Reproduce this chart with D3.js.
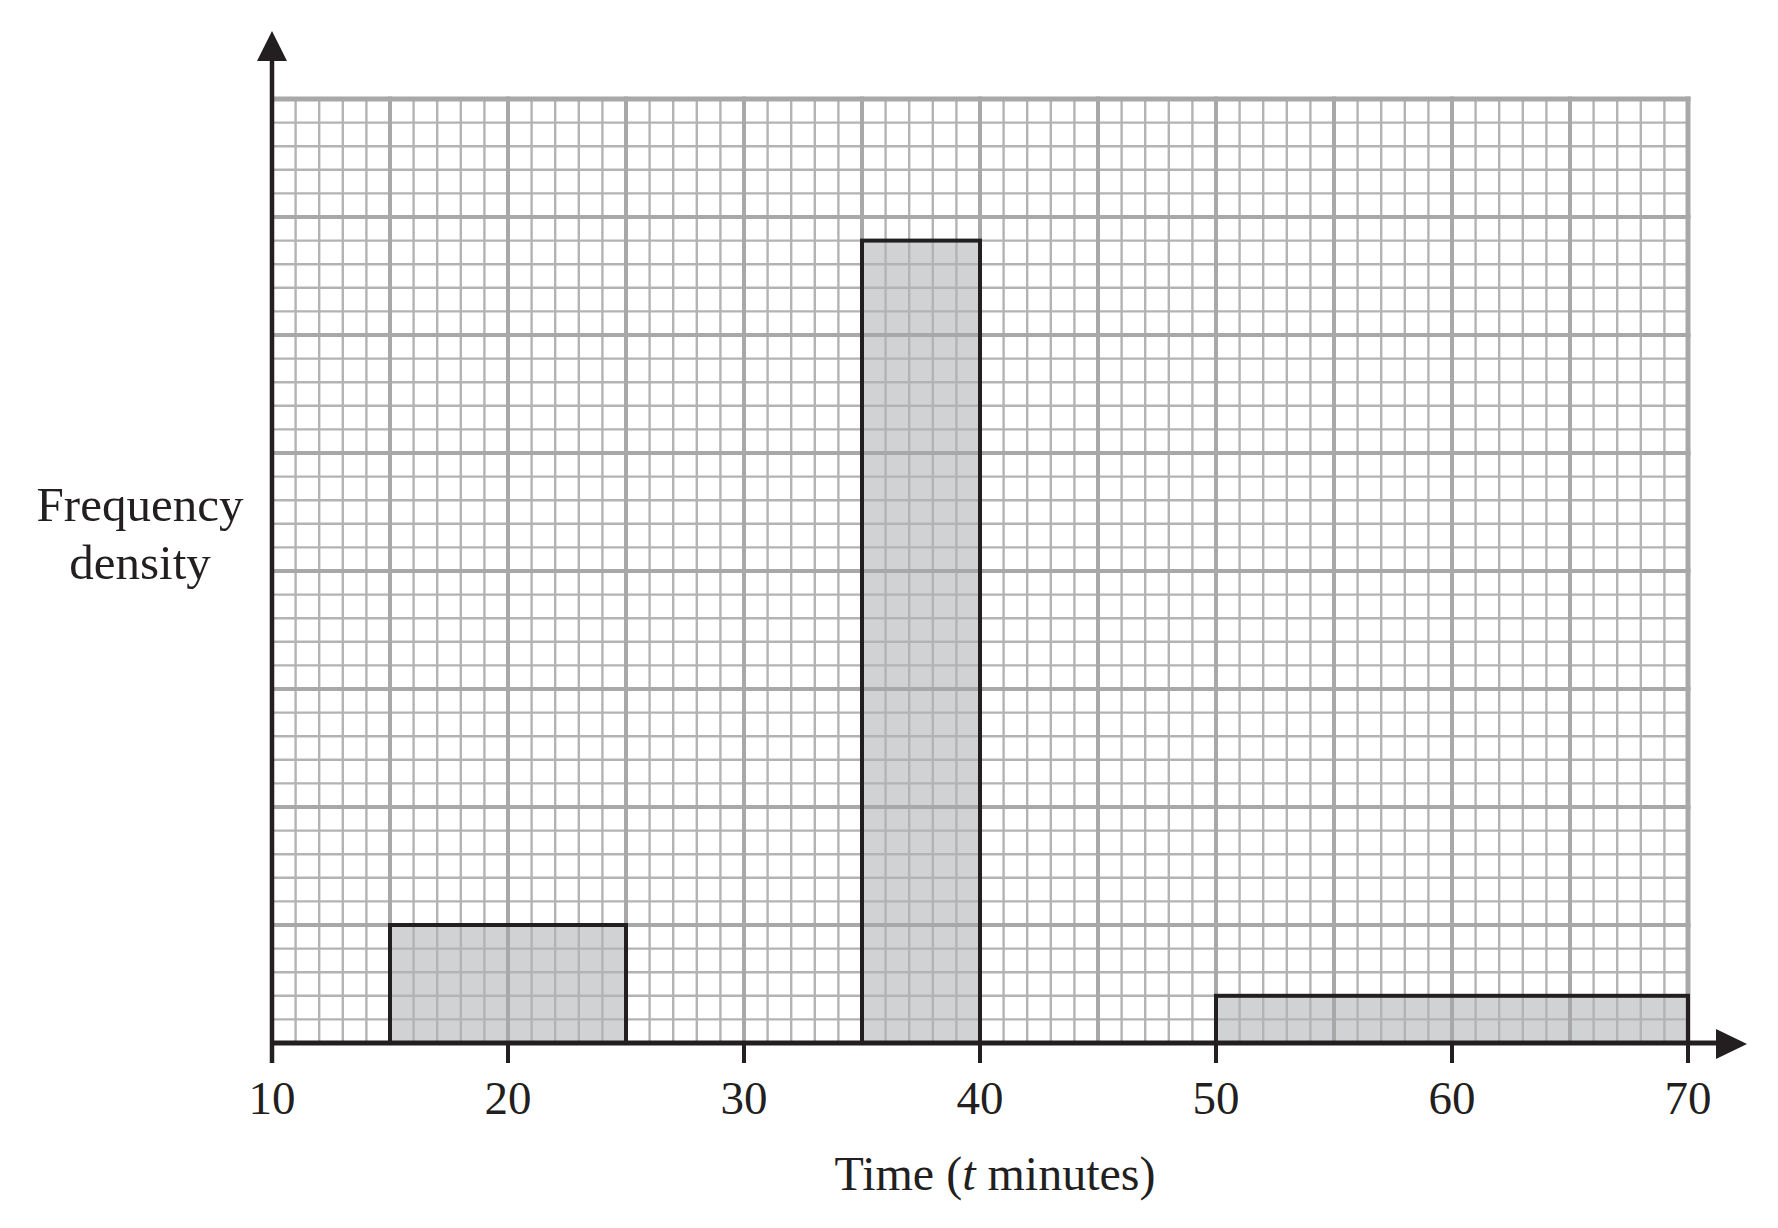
<!DOCTYPE html>
<html>
<head>
<meta charset="utf-8">
<script src="https://cdn.jsdelivr.net/npm/d3@7"></script>
<style>
  body { margin: 0; background: #fff; }
  svg text { font-family: "Liberation Serif", "Times New Roman", serif; fill: #231f20; }
</style>
</head>
<body>
<div id="viz"></div>
<script>
// histogram classes (minutes) and frequency density (in small grid squares)
const classStart = [15, 35, 50]
const classEnd = [25, 40, 70]
const density = [5, 34, 2]
const xTicks = [10, 20, 30, 40, 50, 60, 70]
const xLabel = ['Time (', 't', ' minutes)']
const yLabel = ['Frequency', 'density']

let fullWidth = 1778
let fullHeight = 1228

var svg = d3.select('#viz').append('svg')
    .attr('width', fullWidth).attr('height', fullHeight)

var x = d3.scaleLinear().domain([10, 70]).range([272, 1688])
var y = d3.scaleLinear().domain([0, 40]).range([1043, 99])

let bars = classStart.map((s, i) => ({ s: s, e: classEnd[i], d: density[i] }))

// bar fill sits under the grid
svg.append('g').selectAll('rect')
    .data(bars).enter().append('rect')
    .attr('x', d => x(d.s)).attr('y', d => y(d.d))
    .attr('width', d => x(d.e) - x(d.s)).attr('height', d => y(0) - y(d.d))
    .attr('fill', '#d1d2d4')

// graph paper
let grid = svg.append('g').attr('class', 'grid')
let minorX = d3.range(10, 70.01, 1).filter(v => v % 5 != 0)
let majorX = d3.range(10, 70.01, 5)
let minorY = d3.range(0, 40.01, 1).filter(v => v % 5 != 0)
let majorY = d3.range(0, 40.01, 5)

grid.selectAll('.mx').data(minorX).enter().append('line')
    .attr('x1', d => x(d)).attr('x2', d => x(d)).attr('y1', y(0)).attr('y2', y(40))
    .attr('stroke', '#b3b3b3').attr('stroke-width', 2.4)
grid.selectAll('.my').data(minorY).enter().append('line')
    .attr('y1', d => y(d)).attr('y2', d => y(d)).attr('x1', x(10)).attr('x2', x(70))
    .attr('stroke', '#b3b3b3').attr('stroke-width', 2.4)
grid.selectAll('.Mx').data(majorX).enter().append('line')
    .attr('x1', d => x(d)).attr('x2', d => x(d)).attr('y1', y(0)).attr('y2', y(40) - 2.5)
    .attr('stroke', '#a8a8a8').attr('stroke-width', d => d == 70 ? 5 : 4)
grid.selectAll('.My').data(majorY).enter().append('line')
    .attr('y1', d => y(d)).attr('y2', d => y(d)).attr('x1', x(10)).attr('x2', x(70) + 2.5)
    .attr('stroke', '#a8a8a8').attr('stroke-width', d => d == 40 ? 5 : 4)

// bar outlines
svg.append('g').selectAll('rect')
    .data(bars).enter().append('rect')
    .attr('x', d => x(d.s)).attr('y', d => y(d.d))
    .attr('width', d => x(d.e) - x(d.s)).attr('height', d => y(0) - y(d.d))
    .attr('fill', 'none').attr('stroke', '#231f20').attr('stroke-width', 4)

// axes with arrow heads
let axes = svg.append('g').attr('class', 'axes')
axes.append('line')
    .attr('x1', x(10)).attr('x2', 1720).attr('y1', y(0)).attr('y2', y(0))
    .attr('stroke', '#231f20').attr('stroke-width', 5)
axes.append('path')
    .attr('d', `M1716,1029 L1747,1044 L1716,1059 Z`).attr('fill', '#231f20')
axes.append('line')
    .attr('x1', x(10)).attr('x2', x(10)).attr('y1', 1063).attr('y2', 58)
    .attr('stroke', '#231f20').attr('stroke-width', 4.5)
axes.append('path')
    .attr('d', `M257,61 L${x(10)},31 L287,61 Z`).attr('fill', '#231f20')

axes.selectAll('.tick').data(xTicks).enter().append('line')
    .attr('x1', d => x(d)).attr('x2', d => x(d)).attr('y1', y(0)).attr('y2', 1063)
    .attr('stroke', '#231f20').attr('stroke-width', 4)
axes.selectAll('.tl').data(xTicks).enter().append('text')
    .attr('x', d => x(d)).attr('y', 1114)
    .attr('text-anchor', 'middle').attr('font-size', 47)
    .text(d => d)

// labels
let xl = svg.append('text').attr('x', 995).attr('y', 1190)
    .attr('text-anchor', 'middle').attr('font-size', 48)
xl.append('tspan').text(xLabel[0])
xl.append('tspan').attr('font-style', 'italic').text(xLabel[1])
xl.append('tspan').text(xLabel[2])

svg.append('g').selectAll('text').data(yLabel).enter().append('text')
    .attr('x', 140).attr('y', (d, i) => 521 + i * 58)
    .attr('text-anchor', 'middle').attr('font-size', 49)
    .text(d => d)
</script>
</body>
</html>
